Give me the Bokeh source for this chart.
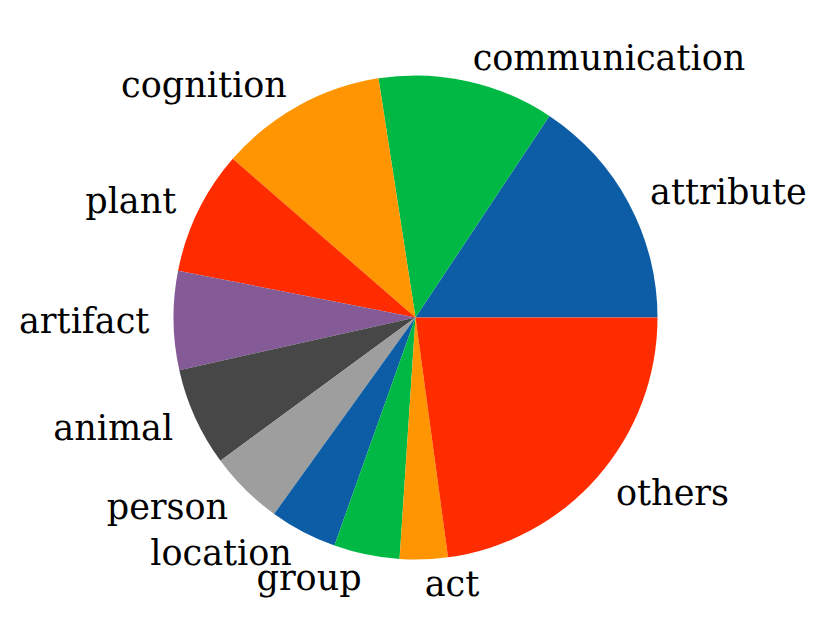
import math
from bokeh.plotting import figure
from bokeh.models import ColumnDataSource
from bokeh.core.properties import value
from bokeh.embed import file_html
from bokeh.resources import INLINE

labels = ["attribute", "communication", "cognition", "plant", "artifact",
          "animal", "person", "location", "group", "act", "others"]
shares = [15.7, 11.8, 11.2, 8.3, 6.6, 6.6, 5.0, 4.5, 4.4, 3.2, 22.9]
palette = ["#0C5DA5", "#00B945", "#FF9500", "#FF2C00", "#845B97", "#474747", "#9E9E9E"]

total = sum(shares)
starts, ends, colors = [], [], []
lx, ly, align = [], [], []
acc = 0.0
for i, s in enumerate(shares):
    a0 = 2 * math.pi * acc / total
    acc += s
    a1 = 2 * math.pi * acc / total
    starts.append(a0)
    ends.append(a1)
    colors.append(palette[i % len(palette)])
    mid = (a0 + a1) / 2
    x = 1.1 * math.cos(mid)
    y = 1.1 * math.sin(mid)
    lx.append(x)
    ly.append(y)
    align.append("left" if x >= 0 else "right")

W, H = 827, 636
cx, cy, R = 415.0, 317.0, 242.0
p = figure(width=W, height=H, output_backend="svg", toolbar_location=None,
           x_range=(-cx / R, (W - cx) / R), y_range=(-(H - cy) / R, cy / R),
           min_border=0)
p.axis.visible = False
p.grid.visible = False
p.outline_line_color = None
p.background_fill_color = "white"

src = ColumnDataSource(dict(start=starts, end=ends, color=colors))
p.wedge(x=0, y=0, radius=1.0, start_angle="start", end_angle="end",
        fill_color="color", line_color=None, source=src)

tsrc = ColumnDataSource(dict(x=lx, y=ly, text=labels, align=align))
p.text(x="x", y="y", text="text", text_align="align", text_baseline="middle",
       text_font=value("DejaVu Serif"), text_font_size="35px",
       text_color="black", source=tsrc)

open("out.html", "w").write(file_html(p, INLINE))
